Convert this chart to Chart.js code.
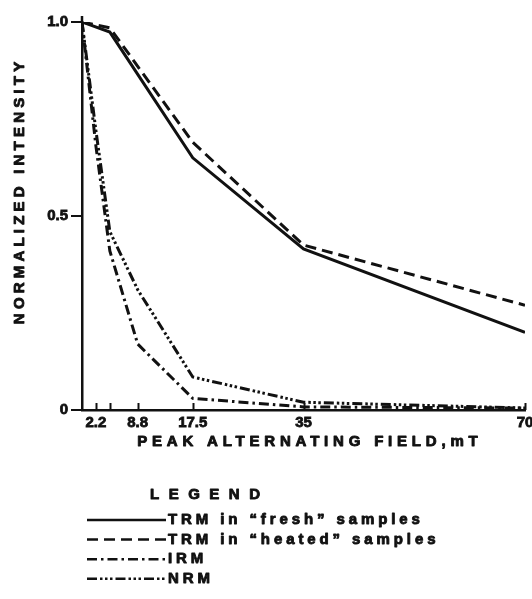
<!DOCTYPE html>
<html>
<head>
<meta charset="utf-8">
<style>
  html, body { margin: 0; padding: 0; background: #fff; overflow: hidden; }
  canvas { display: block; }
</style>
<script src="https://cdn.jsdelivr.net/npm/chart.js@4.4.1/dist/chart.umd.min.js"></script>
</head>
<body>
<canvas id="c" width="532" height="599"></canvas>
<script>
// Alternating-field demagnetization steps (mT)
const fieldTicks = [2.2, 4.4, 8.8, 17.5, 35, 70];
const fieldTickLabels = ['2.2', '', '8.8', '17.5', '35', '70'];
const intensityTicks = [0, 0.5, 1.0];
const intensityTickLabels = ['0', '0.5', '1.0'];

// TRM curves
const trmField = [0, 4.4, 17.5, 35, 70];
const trmFresh = [1.0, 0.974, 0.65, 0.415, 0.20];
const trmHeated = [1.0, 0.985, 0.69, 0.425, 0.27];

// IRM and NRM curves
const remField = [0, 2.2, 4.4, 8.8, 17.5, 35, 70];
const irm = [1.0, 0.68, 0.41, 0.17, 0.03, 0.008, 0.005];
const nrm = [1.0, 0.72, 0.46, 0.31, 0.085, 0.02, 0.005];

const seriesLabels = ['TRM in \u201cfresh\u201d samples', 'TRM in \u201cheated\u201d samples', 'IRM', 'NRM'];
const seriesDash = [[], [11, 6], [10, 4, 2.5, 4], [10, 3, 2.5, 2.5, 2.5, 2.5, 2.5, 3]];

const INK = '#111';
const FONT = '"Liberation Sans", Arial, Helvetica, sans-serif';

const pairs = (xs, ys) => xs.map((x, i) => ({ x, y: ys[i] }));

// Heavy, widely tracked lettering
function spacedText(ctx, text, x, y, size, spacing, align) {
  ctx.save();
  ctx.font = 'bold ' + size + 'px ' + FONT;
  ctx.letterSpacing = spacing + 'px';
  ctx.fillStyle = INK;
  ctx.strokeStyle = INK;
  ctx.lineWidth = 0.9;
  ctx.lineJoin = 'round';
  ctx.textBaseline = 'middle';
  ctx.textAlign = 'left';
  const w = ctx.measureText(text).width - spacing;
  const left = align === 'center' ? x - w / 2 : x;
  ctx.fillText(text, left, y);
  ctx.strokeText(text, left, y);
  ctx.restore();
}

// Axis titles, inward x tick marks and the line-style legend
const decorations = {
  id: 'decorations',
  afterDraw(chart) {
    const { ctx, chartArea, scales } = chart;
    const xs = scales.x;

    ctx.save();
    ctx.strokeStyle = INK;
    ctx.lineWidth = 2;
    fieldTicks.forEach(v => {
      const px = Math.round(xs.getPixelForValue(v)) + 0.5;
      ctx.beginPath();
      ctx.moveTo(px, chartArea.bottom);
      ctx.lineTo(px, chartArea.bottom - 7);
      ctx.stroke();
    });
    // short overshoot of the vertical axis above 1.0
    ctx.lineWidth = 2.5;
    ctx.beginPath();
    ctx.moveTo(chartArea.left, chartArea.top);
    ctx.lineTo(chartArea.left, chartArea.top - 6);
    ctx.stroke();
    ctx.restore();

    // x-axis title
    spacedText(ctx, 'PEAK ALTERNATING FIELD,mT',
      (chartArea.left + chartArea.right) / 2 + 4, chartArea.bottom + 32, 15, 4.8, 'center');

    // y-axis title
    ctx.save();
    ctx.translate(20, (chartArea.top + chartArea.bottom) / 2 - 23);
    ctx.rotate(-Math.PI / 2);
    spacedText(ctx, 'NORMALIZED INTENSITY', 0, 0, 15, 4.2, 'center');
    ctx.restore();

    // legend
    spacedText(ctx, 'LEGEND', 150, 495, 15, 9.5, 'left');
    chart.data.datasets.forEach((ds, i) => {
      const y = 520 + i * 19.6;
      ctx.save();
      ctx.strokeStyle = INK;
      ctx.lineWidth = 2.5;
      ctx.setLineDash(ds.borderDash || []);
      ctx.beginPath();
      ctx.moveTo(87, y);
      ctx.lineTo(166, y);
      ctx.stroke();
      ctx.restore();
      spacedText(ctx, ds.label, 168, y, 15, 3.9, 'left');
    });
  }
};

const datasets = [
  { label: seriesLabels[0], data: pairs(trmField, trmFresh), borderDash: seriesDash[0] },
  { label: seriesLabels[1], data: pairs(trmField, trmHeated), borderDash: seriesDash[1] },
  { label: seriesLabels[2], data: pairs(remField, irm), borderDash: seriesDash[2] },
  { label: seriesLabels[3], data: pairs(remField, nrm), borderDash: seriesDash[3] }
].map(d => Object.assign(d, {
  borderColor: INK,
  borderWidth: 3,
  pointRadius: 0,
  tension: 0,
  fill: false
}));

const tickFont = { family: FONT, size: 15, weight: 'bold' };

new Chart(document.getElementById('c'), {
  type: 'line',
  data: { datasets },
  options: {
    responsive: false,
    animation: false,
    layout: { padding: { top: 22, left: 0, right: 0, bottom: 0 } },
    plugins: { legend: { display: false }, tooltip: { enabled: false } },
    scales: {
      x: {
        type: 'linear',
        min: 0,
        max: 70,
        afterBuildTicks: s => { s.ticks = fieldTicks.map(v => ({ value: v })); },
        afterFit: s => { s.height = 189; s.paddingRight = 7; s.paddingLeft = 0; },
        ticks: {
          autoSkip: false,
          maxRotation: 0,
          padding: 4,
          color: INK,
          textStrokeColor: INK,
          textStrokeWidth: 0.8,
          font: tickFont,
          callback: v => fieldTickLabels[fieldTicks.indexOf(v)] ?? ''
        },
        grid: { drawOnChartArea: false, drawTicks: false },
        border: { display: true, color: INK, width: 2.5 }
      },
      y: {
        min: 0,
        max: 1,
        afterBuildTicks: s => { s.ticks = intensityTicks.map(v => ({ value: v })); },
        afterFit: s => { s.width = 82; },
        ticks: {
          padding: 3,
          color: INK,
          textStrokeColor: INK,
          textStrokeWidth: 0.8,
          font: tickFont,
          callback: v => intensityTickLabels[intensityTicks.indexOf(v)] ?? ''
        },
        grid: { drawOnChartArea: false, drawTicks: true, tickLength: 11, color: INK, lineWidth: 2 },
        border: { display: true, color: INK, width: 2.5 }
      }
    }
  },
  plugins: [decorations]
});
</script>
</body>
</html>
